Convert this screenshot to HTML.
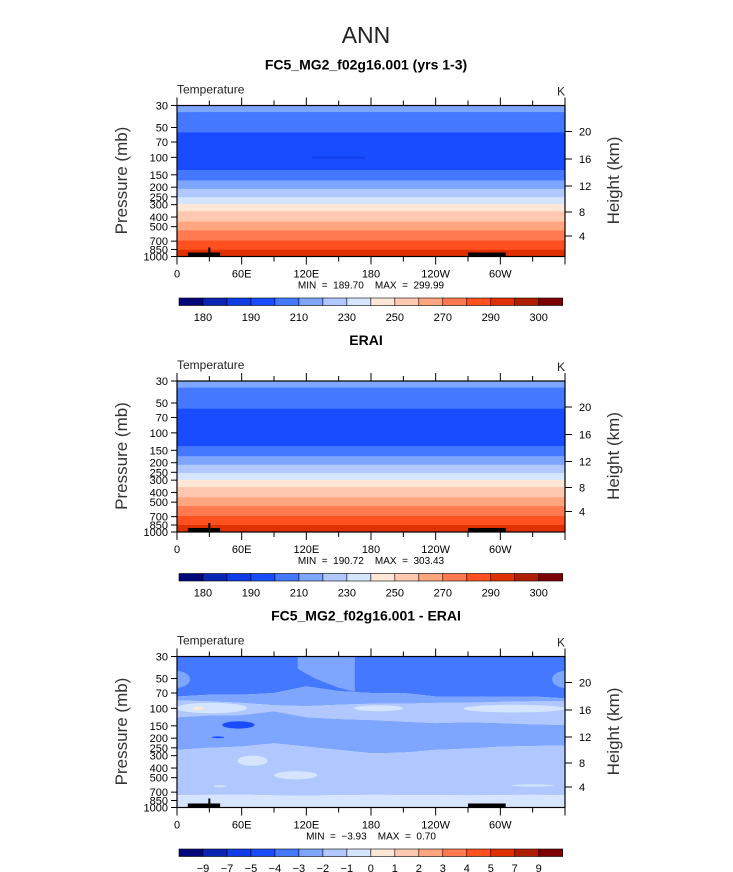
<!DOCTYPE html>
<html><head><meta charset="utf-8"><style>
html,body{margin:0;padding:0;background:#fff;}
svg{display:block;font-family:"Liberation Sans",sans-serif;}
</style></head><body>
<svg id="fig" width="733" height="872" viewBox="0 0 733 872" xmlns="http://www.w3.org/2000/svg">
<text x="366" y="43" font-size="23" text-anchor="middle" fill="#222" font-weight="300">ANN</text>
</svg>
<script>
// ---- data ----
const absColors = ["#02087a","#0a24b4","#0f3ce6","#1a4cff","#4478ff","#7ea6ff","#b0c8ff","#d5e5ff","#ffe7d8","#ffc8b0","#ffa580","#ff7a50","#ff5020","#e03000","#b01e00","#7c0000"];
const absTicks = ["180","190","210","230","250","270","290","300"];
const absTickIdx = [1,3,5,7,9,11,13,15];
const diffTicks = ["−9","−7","−5","−4","−3","−2","−1","0","1","2","3","4","5","7","9"];
const pLevels = [30,50,70,100,150,200,250,300,400,500,700,850,1000];
const xTickLabels = ["0","60E","120E","180","120W","60W"];
const heightTicks = ["20","16","12","8","4"];
const heightTickPos = [26,53.5,80.5,106.5,130.5];
// band boundaries (pressure, hPa) and colour index for each band (top -> bottom)
const modelBounds = [30,35,56,134,171,208,252,296,350,444,546,690,855,1000];
const modelBands  = [5,4,3,4,5,6,7,8,9,10,11,12,13];
const eraBounds   = [30,35,57,136,172,210,254,298,352,446,548,690,850,1000];
const eraBands    = [5,4,3,4,5,6,7,8,9,10,11,12,13];
// difference field: contour interfaces sampled at longitudes
const diffLons = [0,30,60,90,120,150,180,210,240,270,300,330,360];
const diffA = [76,73,73,70,60,67,70,70,76,76,76,76,79];
const diffB = [83,85,88,93,95,92,90,90,88,88,86,85,85];
const diffC = [123,118,117,107,123,128,131,136,141,138,141,145,147];
const diffD = [262,250,243,225,243,262,284,280,262,255,243,240,237];
const diffE = [750,745,740,755,760,750,745,750,750,755,750,745,750];
const diffBandColors = [4,5,6,5,6,7];
// blobs: [lonCenter, pCenter, lonHalfWidth, pTop, pBottom, colourIdx]
const diffBlobs = [[32,100,33,88,112,7],[187,100,23,93,107,7],[313,100,47,92,110,7],[57,148,15,135,160,3],[38,196,6,192,200,3],[70,335,14,300,380,7],[110,470,20,430,520,7],[40,610,6,595,625,7],[330,600,20,585,615,7],[0,52,12,42,62,5],[360,52,12,42,62,5],[20,100,5,96,104,8]];
const minmax = [["189.70","299.99"],["190.72","303.43"],["−3.93","0.70"]];

// ---- geometry ----
const X0=177,X1=565,H=151;
const tops=[105.5,381,656.5];
const titles=["FC5_MG2_f02g16.001 (yrs 1-3)","ERAI","FC5_MG2_f02g16.001 - ERAI"];
const NS="http://www.w3.org/2000/svg";
const svg=document.getElementById('fig');
function xs(lon){return X0+lon/360*(X1-X0);}
function ys(top,p){return top+Math.log(p/30)/Math.log(1000/30)*H;}
function mk(tag,attrs,parent){const e=document.createElementNS(NS,tag);for(const k in attrs)e.setAttribute(k,attrs[k]);(parent||svg).appendChild(e);return e;}

tops.forEach((top,pi)=>{
  const g=mk('g',{});
  
  
  const t=mk('text',{x:366,y:top-36,'font-size':14,'font-weight':'bold','text-anchor':'middle',fill:'#000'},g);t.textContent=titles[pi];
  
  
  const vt=mk('text',{x:X0,y:top-12,'font-size':12,fill:'#222'},g);vt.textContent="Temperature";
  
  
  const ut=mk('text',{x:X1-8,y:top-10,'font-size':12,fill:'#222'},g);ut.textContent="K";
  
  
  const plot=mk('g',{},g);
  
  
  if(pi<2){
    const b=pi==0?modelBounds:eraBounds, c=pi==0?modelBands:eraBands;
    for(let i=0;i<c.length;i++){
      const y0=ys(top,b[i]),y1=ys(top,b[i+1]);
      const r=mk('rect',{x:X0,y:y0,width:X1-X0,height:y1-y0+0.5,fill:absColors[c[i]]},plot);
      
      
    }
    if(pi==0){const l=mk('rect',{x:xs(125),y:ys(top,99),width:xs(175)-xs(125),height:1.5,fill:"#0f3ce6"},plot);
      }
  } else {
    const ifaces=[null,diffA,diffB,diffC,diffD,diffE,null];
    for(let i=0;i<diffBandColors.length;i++){
      let d="";
      const up=ifaces[i], dn=ifaces[i+1];
      diffLons.forEach((l,j)=>{d+=(j?"L":"M")+xs(l)+","+(up?ys(top,up[j]):top);});
      for(let j=diffLons.length-1;j>=0;j--) d+="L"+xs(diffLons[j])+","+(dn?ys(top,dn[j]):top+H);
      const p=mk('path',{d:d+"Z",fill:absColors[diffBandColors[i]]},plot);
      
      
    }
    const col=mk('path',{d:`M${xs(112)},${top}L${xs(165)},${top}L${xs(165)},${ys(top,68)}L${xs(150)},${ys(top,62)}L${xs(128)},${ys(top,50)}L${xs(112)},${ys(top,40)}Z`,fill:absColors[5]},plot);
    
    
    diffBlobs.forEach(bl=>{
      const cy0=ys(top,bl[3]),cy1=ys(top,bl[4]);
      const e=mk('ellipse',{cx:xs(bl[0]),cy:(cy0+cy1)/2,rx:xs(bl[2])-X0,ry:(cy1-cy0)/2,fill:absColors[bl[5]]},plot);
      
      
    });
    mk('rect',{x:X0-30,y:top,width:30,height:H,fill:'#fff'},g);
    mk('rect',{x:X1,y:top,width:30,height:H,fill:'#fff'},g);
  }
  [[10,40],[270,305]].forEach(r=>{const tb=mk('rect',{x:xs(r[0]),y:top+H-4,width:xs(r[1])-xs(r[0]),height:4,fill:'#000'},g);
    });
  mk('rect',{x:xs(30)-1,y:top+H-9,width:2,height:6,fill:'#000'},g);
  const fr=mk('rect',{x:X0,y:top,width:X1-X0,height:H,fill:'none',stroke:'#000','stroke-width':1.2},g);
  
  for(let l=0;l<=360;l+=30){
    const len=(l%60==0)?8:5;
    mk('line',{x1:xs(l),x2:xs(l),y1:top,y2:top-len,stroke:'#000'},g);
    mk('line',{x1:xs(l),x2:xs(l),y1:top+H,y2:top+H+len,stroke:'#000'},g);
  }
  xTickLabels.forEach((s,i)=>{const tx=mk('text',{x:xs(i*60),y:top+H+21,'font-size':11,'text-anchor':'middle',fill:'#000'},g);tx.textContent=s;
    });
  pLevels.forEach(p=>{const y=ys(top,p);mk('line',{x1:X0,x2:X0-6,y1:y,y2:y,stroke:'#000'},g);
    const tx=mk('text',{x:X0-9,y:y+4,'font-size':11,'text-anchor':'end',fill:'#000'},g);tx.textContent=p;
    });
  heightTicks.forEach((s,i)=>{const y=top+heightTickPos[i];mk('line',{x1:X1,x2:X1+7,y1:y,y2:y,stroke:'#000'},g);
    const tx=mk('text',{x:X1+14,y:y+4,'font-size':11,fill:'#000'},g);tx.textContent=s;
    });
  const yl=mk('text',{x:0,y:0,'font-size':17,'text-anchor':'middle',fill:'#333',transform:`translate(127,${top+75}) rotate(-90)`},g);yl.textContent="Pressure  (mb)";
  
  const hl=mk('text',{x:0,y:0,'font-size':17,'text-anchor':'middle',fill:'#333',transform:`translate(619,${top+75}) rotate(-90)`},g);hl.textContent="Height  (km)";
  
  const mm=mk('text',{x:371,y:top+H+32,'font-size':10,'text-anchor':'middle',fill:'#000',style:'white-space:pre'},g);
  mm.textContent="MIN  =  "+minmax[pi][0]+"    MAX  =  "+minmax[pi][1];
  
  const cb=mk('g',{},g);
  
  
  const cx0=179,cw=(562.7-179)/16,cy=top+H+41.5;
  absColors.forEach((c,i)=>{const r=mk('rect',{x:cx0+i*cw,y:cy,width:cw,height:7.5,fill:c,stroke:'#000','stroke-width':0.6},cb);
    });
  if(pi<2){absTicks.forEach((s,i)=>{const tx=mk('text',{x:cx0+absTickIdx[i]*cw,y:cy+23,'font-size':11,'text-anchor':'middle',fill:'#000'},cb);tx.textContent=s;
      });}
  else {diffTicks.forEach((s,i)=>{const tx=mk('text',{x:cx0+(i+1)*cw,y:cy+23,'font-size':11,'text-anchor':'middle',fill:'#000'},cb);tx.textContent=s;
      });}
});
</script>
</body></html>
